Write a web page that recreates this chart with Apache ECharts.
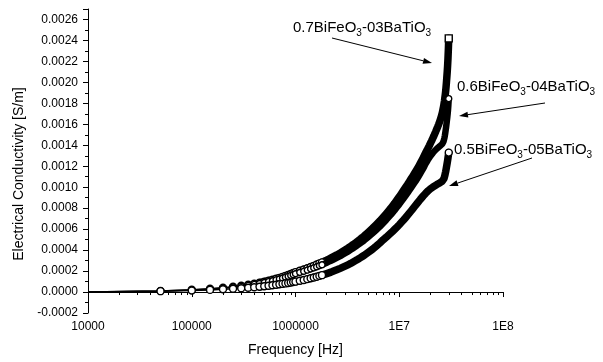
<!DOCTYPE html>
<html><head><meta charset="utf-8">
<script src="https://cdn.jsdelivr.net/npm/echarts@6/dist/echarts.min.js"></script>
<style>html,body{margin:0;padding:0;background:#fff}#c{width:603px;height:362px}</style>
</head><body><div id="c"></div>
<script>
// Frequency in MHz
const freqMHz = [0.01,
0.05,0.1,0.15,0.2,0.25,0.3,0.35,0.4,0.45,0.5,0.55,0.6,0.65,0.7,0.75,0.8,0.85,0.9,0.95,1.0,
1.1,1.2,1.3,1.4,1.5,1.6,1.7,1.8,1.9,2.0,2.1,2.2,2.3,2.4,2.5,2.6,2.7,2.8,2.9,3.0,
3.2,3.4,3.6,3.8,4.0,4.2,4.4,4.6,4.8,5.0,
5.5,6,6.5,7,7.5,8,8.5,9,9.5,10,10.5,11,11.5,12,12.5,13,13.5,14,14.5,15,15.5,16,16.5,17,17.5,18,18.5,19,19.5,20,20.5,21,21.5,22,22.5,23,23.5,24,24.5,25,
25.25,25.5,25.75,26,26.25,26.5,26.75,27,27.25,27.5,27.75,28,28.25,28.5,28.75,29,29.25,29.5,29.75,30];

// Electrical conductivity in units of 1e-4 S/m
const sigma07 = [0,
0.110,0.213,0.313,0.412,0.509,0.605,0.701,0.796,0.889,0.983,1.077,1.170,1.262,1.354,1.446,1.537,1.628,1.719,1.810,1.90,
2.03,2.15,2.27,2.39,2.50,2.62,2.73,2.83,2.94,3.04,3.15,3.25,3.35,3.45,3.54,3.64,3.73,3.83,3.92,4.01,
4.19,4.37,4.54,4.71,4.88,5.04,5.20,5.36,5.52,5.68,
6.06,6.43,6.78,7.14,7.48,7.81,8.14,8.46,8.78,9.09,9.40,9.70,9.98,10.25,10.53,10.80,11.05,11.30,11.55,11.80,12.05,12.30,12.55,12.80,13.05,13.30,13.52,13.75,13.97,14.20,14.42,14.65,14.87,15.10,15.32,15.55,15.77,16.00,16.25,16.50,
16.65,16.80,16.95,17.10,17.30,17.50,17.70,17.95,18.20,18.50,18.80,19.15,19.55,20.00,20.50,21.00,21.60,22.30,23.20,24.20];

const sigma06 = [0,
0.101,0.196,0.288,0.379,0.468,0.557,0.645,0.732,0.818,0.904,0.991,1.076,1.161,1.246,1.330,1.414,1.498,1.581,1.665,1.748,
1.87,1.98,2.09,2.20,2.30,2.41,2.51,2.60,2.70,2.80,2.90,2.99,3.08,3.17,3.26,3.35,3.43,3.52,3.61,3.69,
3.85,4.02,4.18,4.33,4.49,4.64,4.78,4.93,5.08,5.23,
5.58,5.92,6.24,6.57,6.88,7.19,7.49,7.78,8.08,8.36,8.65,8.92,9.18,9.43,9.69,9.94,10.17,10.40,10.63,10.86,11.09,11.32,11.55,11.78,12.01,12.25,12.45,12.65,12.82,12.98,13.12,13.25,13.37,13.48,13.58,13.67,13.75,13.83,13.90,13.97,
14.00,14.04,14.08,14.13,14.19,14.27,14.38,14.52,14.70,14.90,15.15,15.42,15.70,16.00,16.30,16.62,16.97,17.35,17.85,18.45];

const sigma05 = [0,
0.082,0.146,0.205,0.260,0.313,0.365,0.414,0.463,0.510,0.557,0.603,0.648,0.692,0.736,0.780,0.823,0.865,0.907,0.949,0.99,
1.07,1.15,1.23,1.31,1.39,1.46,1.54,1.61,1.69,1.76,1.83,1.90,1.98,2.05,2.12,2.19,2.26,2.33,2.40,2.46,
2.60,2.73,2.87,3.00,3.13,3.26,3.39,3.51,3.64,3.77,
4.07,4.38,4.68,4.98,5.23,5.48,5.72,5.96,6.19,6.42,6.65,6.87,7.09,7.31,7.52,7.73,7.93,8.13,8.32,8.50,8.68,8.85,9.01,9.16,9.30,9.43,9.55,9.66,9.76,9.85,9.93,10.00,10.07,10.13,10.19,10.25,10.30,10.35,10.40,10.45,
10.48,10.51,10.54,10.58,10.62,10.67,10.74,10.84,10.97,11.12,11.29,11.48,11.68,11.89,12.10,12.32,12.55,12.80,13.05,13.30];

const SIGMA_UNIT = 1e-4;
const MHZ = 1e6;

const xTickValues = [1e4, 1e5, 1e6, 1e7, 1e8];
const xTickLabels = ['10000', '100000', '1000000', '1E7', '1E8'];
const yMin = -0.0002, yMax = 0.0027, yStep = 0.0002;

const seriesLabels = [
  ['0.7BiFeO', '3', '-03BaTiO', '3'],
  ['0.6BiFeO', '3', '-04BaTiO', '3'],
  ['0.5BiFeO', '3', '-05BaTiO', '3']
];
// annotation placement: [textLeft, textTop, arrowFromX, arrowFromY, arrowToX, arrowToY]
const annotations = [
  [293, 18, 332, 38, 432, 63],
  [457, 77, 545, 103, 459, 116],
  [454, 140, 532, 158, 449, 186]
];

// dense-marker rendering: individual symbols at low frequency, overlapping band above
const MARKER_MAX_MHZ = 1.8;
const BAND_MIN_MHZ = 0.45;

const FONT = 'Liberation Sans, Arial, Helvetica, sans-serif';

function markerData(vals, lastSymbol) {
  const n = freqMHz.length;
  return freqMHz.map((f, i) => {
    const v = [f * MHZ, vals[i] * SIGMA_UNIT];
    if (i === n - 1) return { value: v, symbol: lastSymbol };
    if (i === 0 || f > MARKER_MAX_MHZ) return { value: v, symbol: 'none' };
    return v;
  });
}
function bandData(vals) {
  const out = [];
  freqMHz.forEach((f, i) => { if (f >= BAND_MIN_MHZ) out.push([f * MHZ, vals[i] * SIGMA_UNIT]); });
  return out;
}

function arrow(x1, y1, x2, y2) {
  const L = 9, W = 3;
  const dx = x2 - x1, dy = y2 - y1, len = Math.hypot(dx, dy);
  const ux = dx / len, uy = dy / len;
  const bx = x2 - ux * L, by = y2 - uy * L;
  return [
    { type: 'line', shape: { x1: x1, y1: y1, x2: bx, y2: by }, style: { stroke: '#000', lineWidth: 1 } },
    { type: 'polygon', shape: { points: [[x2, y2], [bx - uy * W, by + ux * W], [bx + uy * W, by - ux * W]] }, style: { fill: '#000' } }
  ];
}

const graphics = [];
annotations.forEach((a, i) => {
  const t = seriesLabels[i];
  graphics.push({
    type: 'text', left: a[0], top: a[1],
    style: {
      text: '{n|' + t[0] + '}{s|' + t[1] + '}{n|' + t[2] + '}{s|' + t[3] + '}',
      rich: {
        n: { fontSize: 15, fontFamily: FONT, fill: '#000', lineHeight: 18, verticalAlign: 'top' },
        s: { fontSize: 10, fontFamily: FONT, fill: '#000', lineHeight: 12, padding: [10, 0, 0, 0], verticalAlign: 'bottom' }
      }
    }
  });
  arrow(a[2], a[3], a[4], a[5]).forEach(g => graphics.push(g));
});

const curves = [
  { vals: sigma07, size: 7, band: 7.5, last: 'rect' },
  { vals: sigma06, size: 6, band: 6.5, last: 'circle' },
  { vals: sigma05, size: 7, band: 7.5, last: 'circle' }
];
const series = [];
curves.forEach((c, k) => {
  series.push({ name: seriesLabels[k].join('') + ' band', type: 'line', data: bandData(c.vals), symbol: 'none',
    lineStyle: { color: '#000', width: c.band, cap: 'round', join: 'round' }, z: 1 + k * 2, silent: true });
  series.push({ name: seriesLabels[k].join(''), type: 'line', data: markerData(c.vals, c.last), symbol: 'circle', symbolSize: c.size,
    itemStyle: { color: '#fff', borderColor: '#000', borderWidth: 1.4 }, lineStyle: { color: '#000', width: 1.5 }, z: 2 + k * 2 });
});

const chart = echarts.init(document.getElementById('c'), null, { renderer: 'canvas' });
chart.setOption({
  animation: false,
  backgroundColor: '#fff',
  grid: { left: 88, right: 100, top: 9, bottom: 49 },
  xAxis: {
    type: 'log', logBase: 10, min: 1e4, max: 1e8,
    name: 'Frequency [Hz]', nameLocation: 'middle', nameGap: 30,
    nameTextStyle: { fontSize: 14, fontFamily: FONT, color: '#000' },
    axisLine: { lineStyle: { color: '#000', width: 1 } },
    axisTick: { length: 5, lineStyle: { color: '#000' } },
    minorTick: { show: true, splitNumber: 9, length: 3, lineStyle: { color: '#000' } },
    axisLabel: { fontSize: 12, fontFamily: FONT, color: '#000', margin: 8,
      formatter: v => { const k = xTickValues.findIndex(t => Math.abs(Math.log10(t) - Math.log10(v)) < 1e-6); return k >= 0 ? xTickLabels[k] : ''; } },
    splitLine: { show: false }
  },
  yAxis: {
    type: 'value', min: yMin, max: yMax, interval: yStep,
    name: 'Electrical Conductivity [S/m]', nameLocation: 'middle', nameGap: 60,
    nameTextStyle: { fontSize: 14, fontFamily: FONT, color: '#000', padding: [0, 26, 0, 0] },
    axisLine: { show: true, lineStyle: { color: '#000', width: 1 } },
    axisTick: { show: true, length: 5, lineStyle: { color: '#000' } },
    minorTick: { show: true, splitNumber: 2, length: 3, lineStyle: { color: '#000' } },
    axisLabel: { fontSize: 12, fontFamily: FONT, color: '#000', margin: 10, showMaxLabel: false,
      formatter: v => (Math.abs(v) < 1e-12 ? 0 : v).toFixed(4) },
    splitLine: { show: false }
  },
  series: series,
  graphic: graphics
});
</script></body></html>
